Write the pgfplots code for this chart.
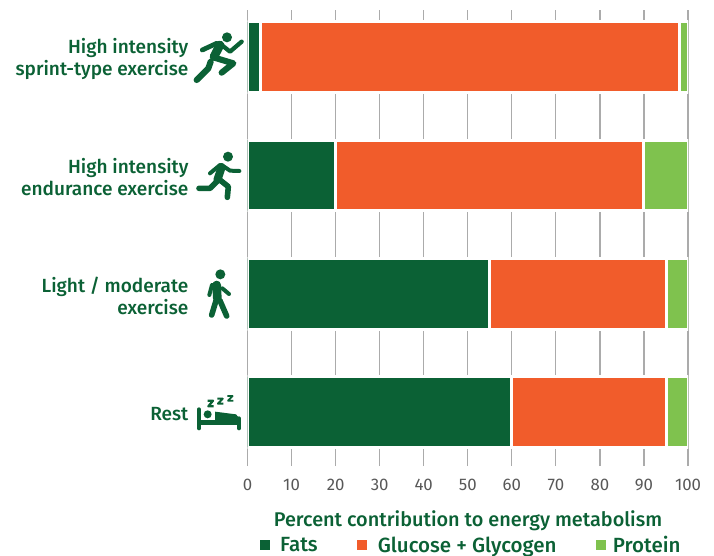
\documentclass[border=0pt]{standalone}
\usepackage{fontspec}
\setmainfont{Fira Sans}
\newfontfamily\med{Fira Sans Medium}
\usepackage{pgfplots}
\pgfplotsset{compat=1.18}
\usepackage{pgfplotstable}
\definecolor{dg}{HTML}{0B6135}
\definecolor{og}{HTML}{F15C2B}
\definecolor{lg}{HTML}{7FC24E}
\definecolor{gr}{HTML}{ABABAB}
\definecolor{tl}{HTML}{585858}
\pgfplotstableread{
y fats glucose protein full
0 60 35 5 100
1 55 40 5 100
2 20 70 10 100
3 3 95 2 100
}\data
\pgfplotsset{base/.style={
  at={(185.625pt,-349.5pt)}, anchor=south west, scale only axis,
  width=330.4pt, height=342pt,
  xmin=0, xmax=100, ymin=-0.456, ymax=3.398,
  axis line style={draw=none}, tick style={draw=none},
  xtick={0,10,...,100}, ytick={0,1,2,3},
}}
\begin{document}
\begin{tikzpicture}[x=0.75pt,y=-0.75pt]
\clip (0,0) rectangle (714,556);
\begin{axis}[base, xbar, xticklabels={}, yticklabels={},
  xmajorgrids, grid style={gr,line width=0.9pt}, bar width=54.5pt]
\addplot[fill=white,draw=none] table[x=full,y=y]{\data};
\end{axis}
\begin{axis}[base, xbar stacked, bar width=53pt,
  /pgf/number format/assume math mode=true,
  xticklabel style={font=\fontsize{12.6}{14}\selectfont, text=tl, anchor=base, yshift=-18.6pt},
  yticklabel style={font=\med\fontsize{14.3}{16.5}\selectfont, text=dg, align=right, anchor=east, xshift=-40.8pt, yshift=-1.5pt},
  yticklabels={Rest,{Light / moderate\\exercise},{High intensity\\endurance exercise},{High intensity\\sprint-type exercise}},
  xlabel={Percent contribution to energy metabolism},
  xlabel style={font=\med\fontsize{14.9}{16}\selectfont, text=dg, at={(axis description cs:0.5006,-0.1316)}, anchor=base},
  legend style={draw=none, fill=none, at={(axis description cs:0.0212,-0.200)}, anchor=south west,
    legend columns=3, font=\med\fontsize{15.4}{16}\selectfont, text=dg, inner sep=0pt, outer sep=0pt},
  legend cell align=left,
  legend image code/.code={\fill[#1] (0pt,-4.9pt) rectangle (9.8pt,4.9pt);},
  ]
\addplot[fill=dg,draw=white,line width=2.25pt] table[x=fats,y=y]{\data};
\addplot[fill=og,draw=white,line width=2.25pt] table[x=glucose,y=y]{\data};
\addplot[fill=lg,draw=white,line width=2.25pt] table[x=protein,y=y]{\data};
\addlegendentry{\hspace*{3.5pt}Fats\hspace*{25.5pt}}
\addlegendentry{\hspace*{3.5pt}Glucose + Glycogen\hspace*{25.5pt}}
\addlegendentry{\hspace*{0.75pt}Protein}
\end{axis}
% icons, in coordinates of three times the pixel size
\begin{scope}[x=0.25pt,y=-0.25pt,draw=dg,fill=dg,line cap=round,line join=round]
 % sprinter
 \fill (681,112) circle (15);
 \draw[line width=3.6pt] (650,130)--(607,150);
 \draw[line width=3.2pt] (665,135)--(690,155)--(725,125);
 \draw[line width=6.5pt] (660,135)--(642,170);
 \draw[line width=4.6pt] (640,172)--(700,190)--(665,218);
 \draw[line width=4.6pt] (632,185)--(625,205)--(590,240);
 % endurance runner
 \fill (684,470) circle (15);
 \draw[line width=3pt] (660,495)--(630,520);
 \draw[line width=3pt] (665,495)--(690,512)--(718,513);
 \draw[line width=6pt] (665,502)--(652,540);
 \draw[line width=4.2pt] (660,540)--(685,560)--(682,592);
 \draw[line width=4.2pt] (650,545)--(630,565)--(597,565);
\end{scope}
\begin{scope}[shift={(0,230)},x=0.25pt,y=-0.25pt,draw=dg,fill=dg,line cap=round,line join=round]
 % walker
 \fill (661,133) circle (15);
 \draw[line width=6.5pt] (650,165)--(652,205);
 \draw[line width=3pt] (636,165)--(628,195);
 \draw[line width=3pt] (667,175)--(687,192);
 \draw[line width=4.2pt] (648,212)--(635,255);
 \draw[line width=4.2pt] (660,212)--(680,258);
 % bed
 \draw[line width=3pt] (597,538)--(597,595);
 \draw[line width=3pt] (717,565)--(717,595);
 \fill (597,570) rectangle (722,585);
 \fill (645,545) -- (708,553) -- (722,570) -- (645,570) -- cycle;
 \fill (623,553) circle (12);
 \draw[line width=1.7pt,line cap=butt,miter limit=2] (623,512)--(639,512)--(625,529)--(641,529);
 \draw[line width=1.5pt,line cap=butt] (652,506)--(668,506)--(654,521)--(670,521);
 \draw[line width=1.3pt,line cap=butt] (682,498)--(698,498)--(684,512)--(700,512);
\end{scope}
\end{tikzpicture}
\end{document}
